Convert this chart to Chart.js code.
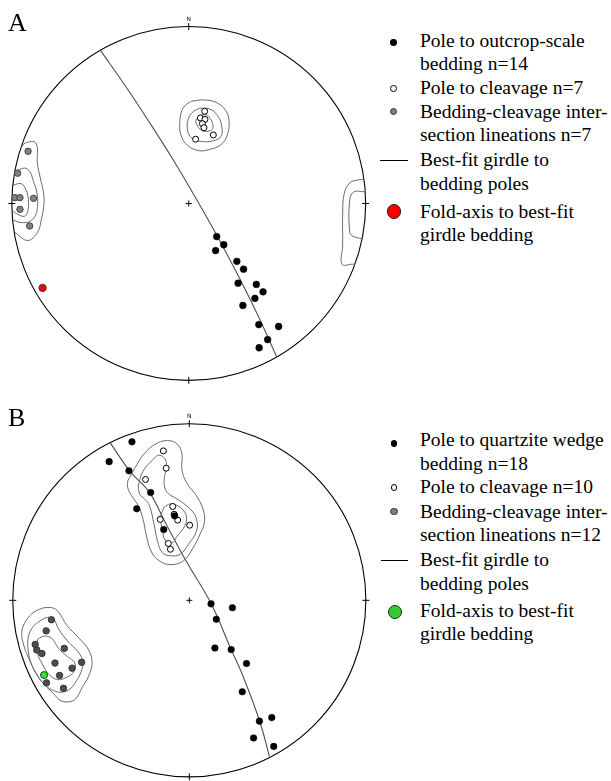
<!DOCTYPE html>
<html>
<head>
<meta charset="utf-8">
<script src="https://cdn.jsdelivr.net/npm/chart.js@4/dist/chart.umd.min.js"></script>
<style>
  html, body { margin: 0; padding: 0; background: #fff; }
  body { width: 611px; height: 781px; position: relative; overflow: hidden;
         font-family: "Liberation Serif", "Times New Roman", serif; color: #000; }
  canvas { position: absolute; left: 0; }
  #netA { top: 0; }
  #netB { top: 390px; }
  .panel { position: absolute; left: 8px; font-size: 26px; line-height: 26px; }
  .item { position: absolute; left: 420px; font-size: 19.5px; line-height: 23.5px; white-space: nowrap; }
  .dot { position: absolute; border-radius: 50%; box-sizing: border-box; }
  .rule { position: absolute; height: 0; border-top: 1px solid #000; }
</style>
</head>
<body>
<canvas id="netA" width="380" height="390"></canvas>
<canvas id="netB" width="380" height="391"></canvas>

<div class="panel" style="top:10px">A</div>
<div class="panel" style="top:405px">B</div>

<!-- legend, panel A -->
<div class="dot" style="left:390px;top:39.4px;width:6.8px;height:6.8px;background:#000"></div>
<div class="item" style="top:28.7px">Pole to outcrop-scale<br>bedding n=14</div>
<div class="dot" style="left:390px;top:85px;width:6.8px;height:6.8px;background:#fff;border:1px solid #000"></div>
<div class="item" style="top:76.3px">Pole to cleavage n=7</div>
<div class="dot" style="left:389.8px;top:108.2px;width:7.2px;height:7.2px;background:#808080;border:1px solid #333"></div>
<div class="item" style="top:99.7px">Bedding-cleavage inter-<br>section lineations n=7</div>
<div class="rule" style="left:380px;top:160px;width:28px"></div>
<div class="item" style="top:148px">Best-fit girdle to<br>bedding poles</div>
<div class="dot" style="left:386.7px;top:204.4px;width:14.6px;height:14.6px;background:#ff0000;border:1px solid #222"></div>
<div class="item" style="top:199.7px">Fold-axis to best-fit<br>girdle bedding</div>

<!-- legend, panel B -->
<div class="dot" style="left:390.6px;top:440px;width:6.8px;height:6.8px;background:#000"></div>
<div class="item" style="top:428px">Pole to quartzite wedge<br>bedding n=18</div>
<div class="dot" style="left:390.6px;top:484px;width:6.8px;height:6.8px;background:#fff;border:1px solid #000"></div>
<div class="item" style="top:475.3px">Pole to cleavage n=10</div>
<div class="dot" style="left:390.4px;top:508.1px;width:7.2px;height:7.2px;background:#808080;border:1px solid #333"></div>
<div class="item" style="top:499.7px">Bedding-cleavage inter-<br>section lineations n=12</div>
<div class="rule" style="left:381px;top:560px;width:27px"></div>
<div class="item" style="top:548px">Best-fit girdle to<br>bedding poles</div>
<div class="dot" style="left:388px;top:604.7px;width:14px;height:14px;background:#33cc33;border:1px solid #222"></div>
<div class="item" style="top:598.7px">Fold-axis to best-fit<br>girdle bedding</div>

<script>
// Stereonet coordinates: x = east, y = north, primitive circle radius = 1.
const northLabel = 'N';

// ---- Panel A ----
const beddingPolesA = [[0.158,-0.187],[0.198,-0.233],[0.152,-0.266],[0.272,-0.327],[0.310,-0.371],
  [0.279,-0.450],[0.382,-0.457],[0.420,-0.499],[0.374,-0.536],[0.306,-0.576],[0.396,-0.684],
  [0.508,-0.695],[0.446,-0.769],[0.398,-0.815]];
const cleavagePolesA = [[0.090,0.521],[0.066,0.483],[0.092,0.475],[0.077,0.451],[0.086,0.428],
  [0.139,0.387],[0.039,0.363]];
const lineationsA = [[-0.908,0.295],[-0.967,0.171],[-0.982,0.033],[-0.954,0.033],[-0.877,0.029],
  [-0.954,-0.033],[-0.899,-0.127]];
const foldAxisA = [[-0.826,-0.477]];
const girdleA = [[-0.500,0.866],[-0.356,0.661],[-0.218,0.452],[-0.084,0.240],[0.043,0.025],
  [0.166,-0.193],[0.283,-0.414],[0.394,-0.639],[0.497,-0.866]];
// density contours (closed = loop, open = cut by the primitive)
const cleavContoursA = [
  [[0.017,0.578],[0.084,0.585],[0.154,0.571],[0.209,0.525],[0.228,0.461],[0.218,0.387],[0.182,0.332],
   [0.117,0.305],[0.053,0.299],[-0.011,0.332],[-0.044,0.387],[-0.051,0.451],[-0.039,0.525],[-0.011,0.561]],
  [[0.062,0.538],[0.117,0.534],[0.163,0.497],[0.187,0.433],[0.182,0.378],[0.136,0.354],[0.072,0.350],
   [0.017,0.369],[-0.007,0.415],[-0.002,0.479],[0.026,0.519]],
  [[0.059,0.497],[0.108,0.497],[0.136,0.424],[0.081,0.409],[0.040,0.461]]
];
const linContoursA = [
  [[-0.950,0.310],[-0.925,0.341],[-0.864,0.341],[-0.855,0.222],[-0.840,0.149],[-0.822,0.066],
   [-0.818,0.002],[-0.833,-0.090],[-0.855,-0.163],[-0.910,-0.209],[-0.983,-0.163]],
  [[-0.987,0.182],[-0.914,0.196],[-0.873,0.112],[-0.855,0.039],[-0.855,-0.017],[-0.864,-0.062],
   [-0.895,-0.099],[-0.947,-0.108],[-0.994,-0.094]],
  [[-0.994,0.103],[-0.947,0.112],[-0.919,0.075],[-0.906,0.020],[-0.910,-0.044],[-0.928,-0.072],
   [-0.965,-0.062],[-0.998,-0.039]]
];
const eastContoursA = [
  [[0.991,0.134],[0.961,0.134],[0.910,0.116],[0.879,0.057],[0.870,-0.053],[0.870,-0.237],
   [0.866,-0.343],[0.925,-0.343],[0.939,-0.343]],
  [[0.991,0.066],[0.934,0.066],[0.910,0.020],[0.910,-0.163],[0.928,-0.185],[0.980,-0.200]]
];

// ---- Panel B ----
const beddingPolesB = [[-0.325,0.897],[-0.454,0.785],[-0.342,0.733],[-0.219,0.610],[-0.298,0.518],
  [-0.083,0.478],[-0.145,0.401],[0.123,-0.020],[0.244,-0.042],[0.153,-0.107],[0.145,-0.270],
  [0.237,-0.279],[0.324,-0.358],[0.300,-0.518],[0.397,-0.684],[0.467,-0.664],[0.364,-0.779],
  [0.478,-0.827]];
const cleavagePolesB = [[-0.147,0.846],[-0.131,0.748],[-0.248,0.684],[-0.094,0.531],[-0.086,0.487],
  [-0.066,0.454],[-0.165,0.458],[0.002,0.425],[-0.119,0.322],[-0.107,0.289]];
const lineationsB = [[-0.781,-0.110],[-0.811,-0.173],[-0.873,-0.250],[-0.864,-0.281],[-0.835,-0.301],
  [-0.708,-0.272],[-0.761,-0.355],[-0.610,-0.351],[-0.664,-0.384],[-0.735,-0.425],[-0.809,-0.467],
  [-0.713,-0.498]];
const foldAxisB = [[-0.823,-0.423]];
const girdleB = [[-0.447,0.890],[-0.336,0.730],[-0.226,0.611],[-0.134,0.436],[-0.014,0.215],
  [0.124,-0.020],[0.234,-0.272],[0.307,-0.437],[0.399,-0.686],[0.454,-0.884]];
const cleavContoursB = [
  [[-0.349,0.675],[-0.309,0.748],[-0.254,0.831],[-0.189,0.886],[-0.125,0.904],[-0.070,0.886],
   [-0.042,0.831],[-0.042,0.739],[-0.015,0.665],[0.040,0.592],[0.077,0.518],[0.086,0.445],
   [0.059,0.371],[0.022,0.298],[-0.033,0.224],[-0.107,0.202],[-0.171,0.224],[-0.217,0.279],
   [-0.244,0.371],[-0.263,0.463],[-0.290,0.537],[-0.327,0.592],[-0.349,0.638]],
  [[-0.290,0.647],[-0.263,0.730],[-0.208,0.794],[-0.171,0.822],[-0.134,0.794],[-0.134,0.739],
   [-0.143,0.665],[-0.125,0.610],[-0.070,0.574],[0.004,0.518],[0.040,0.463],[0.040,0.390],
   [-0.006,0.316],[-0.051,0.261],[-0.107,0.252],[-0.153,0.270],[-0.180,0.335],[-0.199,0.426],
   [-0.226,0.537],[-0.254,0.574],[-0.281,0.601]],
  [[-0.143,0.528],[-0.107,0.546],[-0.070,0.537],[-0.033,0.509],[-0.015,0.463],[-0.033,0.408],
   [-0.070,0.362],[-0.097,0.325],[-0.134,0.335],[-0.153,0.399],[-0.162,0.472]]
];
const linContoursB = [
  [[-0.824,-0.042],[-0.778,-0.042],[-0.741,-0.066],[-0.695,-0.140],[-0.631,-0.208],[-0.570,-0.281],
   [-0.551,-0.355],[-0.570,-0.428],[-0.607,-0.493],[-0.643,-0.557],[-0.686,-0.575],[-0.732,-0.566],
   [-0.768,-0.529],[-0.824,-0.474],[-0.869,-0.410],[-0.906,-0.336],[-0.938,-0.254],[-0.949,-0.180],
   [-0.925,-0.116],[-0.879,-0.066]],
  [[-0.860,-0.125],[-0.805,-0.097],[-0.768,-0.107],[-0.741,-0.162],[-0.686,-0.235],[-0.631,-0.290],
   [-0.603,-0.346],[-0.612,-0.401],[-0.640,-0.456],[-0.676,-0.502],[-0.722,-0.520],[-0.768,-0.511],
   [-0.814,-0.483],[-0.860,-0.428],[-0.893,-0.364],[-0.912,-0.290],[-0.912,-0.208],[-0.888,-0.153]],
  [[-0.860,-0.221],[-0.820,-0.202],[-0.778,-0.217],[-0.741,-0.272],[-0.691,-0.318],[-0.649,-0.355],
   [-0.654,-0.404],[-0.691,-0.434],[-0.746,-0.449],[-0.796,-0.419],[-0.833,-0.360],[-0.860,-0.300]]
];

// ---- drawing helpers ----
const toXY = arr => arr.map(([x, y]) => ({ x, y }));

function curve(arr, closed, color, width) {
  return {
    type: 'scatter',
    data: toXY(closed ? arr.concat([arr[0]]) : arr),
    showLine: true, fill: false, tension: 0.4,
    borderColor: color, borderWidth: width,
    pointRadius: 0, order: 5
  };
}

function marks(arr, radius, fillColor, edgeColor, edgeWidth, order) {
  return {
    type: 'scatter',
    data: toXY(arr),
    showLine: false,
    pointRadius: radius,
    pointBackgroundColor: fillColor,
    pointBorderColor: edgeColor,
    pointBorderWidth: edgeWidth,
    order: order
  };
}

// primitive circle, cardinal ticks, centre cross and north label
const netFrame = {
  id: 'netFrame',
  beforeDatasetsDraw(chart) {
    const { ctx, scales: { x, y } } = chart;
    const cx = x.getPixelForValue(0), cy = y.getPixelForValue(0);
    const r = x.getPixelForValue(1) - cx;
    ctx.save();
    ctx.strokeStyle = '#000';
    ctx.lineWidth = 1.1;
    ctx.beginPath();
    ctx.arc(cx, cy, r, 0, Math.PI * 2);
    ctx.stroke();
    ctx.lineWidth = 1;
    const t = 3.5, c = 3;
    ctx.beginPath();
    ctx.moveTo(cx, cy - r - t); ctx.lineTo(cx, cy - r + t);
    ctx.moveTo(cx, cy + r - t); ctx.lineTo(cx, cy + r + t);
    ctx.moveTo(cx - r - t, cy); ctx.lineTo(cx - r + t, cy);
    ctx.moveTo(cx + r - t, cy); ctx.lineTo(cx + r + t, cy);
    ctx.moveTo(cx - c, cy); ctx.lineTo(cx + c, cy);
    ctx.moveTo(cx, cy - c); ctx.lineTo(cx, cy + c);
    ctx.stroke();
    ctx.fillStyle = '#000';
    ctx.font = '6px "DejaVu Sans"';
    ctx.textAlign = 'center';
    ctx.textBaseline = 'bottom';
    ctx.fillText(northLabel, cx, cy - r - 4);
    ctx.restore();
  }
};

function drawNet(id, datasets, view) {
  new Chart(document.getElementById(id), {
    type: 'scatter',
    data: { datasets },
    options: {
      responsive: false, animation: false, devicePixelRatio: 1, events: [],
      layout: { padding: 0 },
      scales: {
        x: { type: 'linear', display: false, min: view.x[0], max: view.x[1] },
        y: { type: 'linear', display: false, min: view.y[0], max: view.y[1] }
      },
      plugins: { legend: { display: false }, tooltip: { enabled: false } }
    },
    plugins: [netFrame]
  });
}

const contourColor = '#6a6a6a';

drawNet('netA', [
  ...cleavContoursA.map(c => curve(c, true, contourColor, 1)),
  ...linContoursA.map(c => curve(c, false, contourColor, 1)),
  ...eastContoursA.map(c => curve(c, false, contourColor, 1)),
  curve(girdleA, false, '#505050', 1.1),
  marks(cleavagePolesA, 3, '#ffffff', '#000000', 1, 3),
  marks(lineationsA, 3.2, '#808080', '#444444', 1, 3),
  marks(beddingPolesA, 3.4, '#000000', '#000000', 0.5, 2),
  marks(foldAxisA, 3.6, '#ff0000', '#333333', 1, 1)
], { x: [-1.0385, 1.0528], y: [-1.0253, 1.1211] });

drawNet('netB', [
  ...cleavContoursB.map(c => curve(c, true, contourColor, 1)),
  ...linContoursB.map(c => curve(c, true, contourColor, 1)),
  curve(girdleB, false, '#505050', 1.1),
  marks(cleavagePolesB, 3, '#ffffff', '#000000', 1, 3),
  marks(lineationsB, 3.2, '#4d4d4d', '#333333', 1, 3),
  marks(beddingPolesB, 3.3, '#000000', '#000000', 0.5, 2),
  marks(foldAxisB, 3.5, '#22ee22', '#333333', 1, 1)
], { x: [-1.0441, 1.0518], y: [-0.9945, 1.1622] });
</script>
</body>
</html>
